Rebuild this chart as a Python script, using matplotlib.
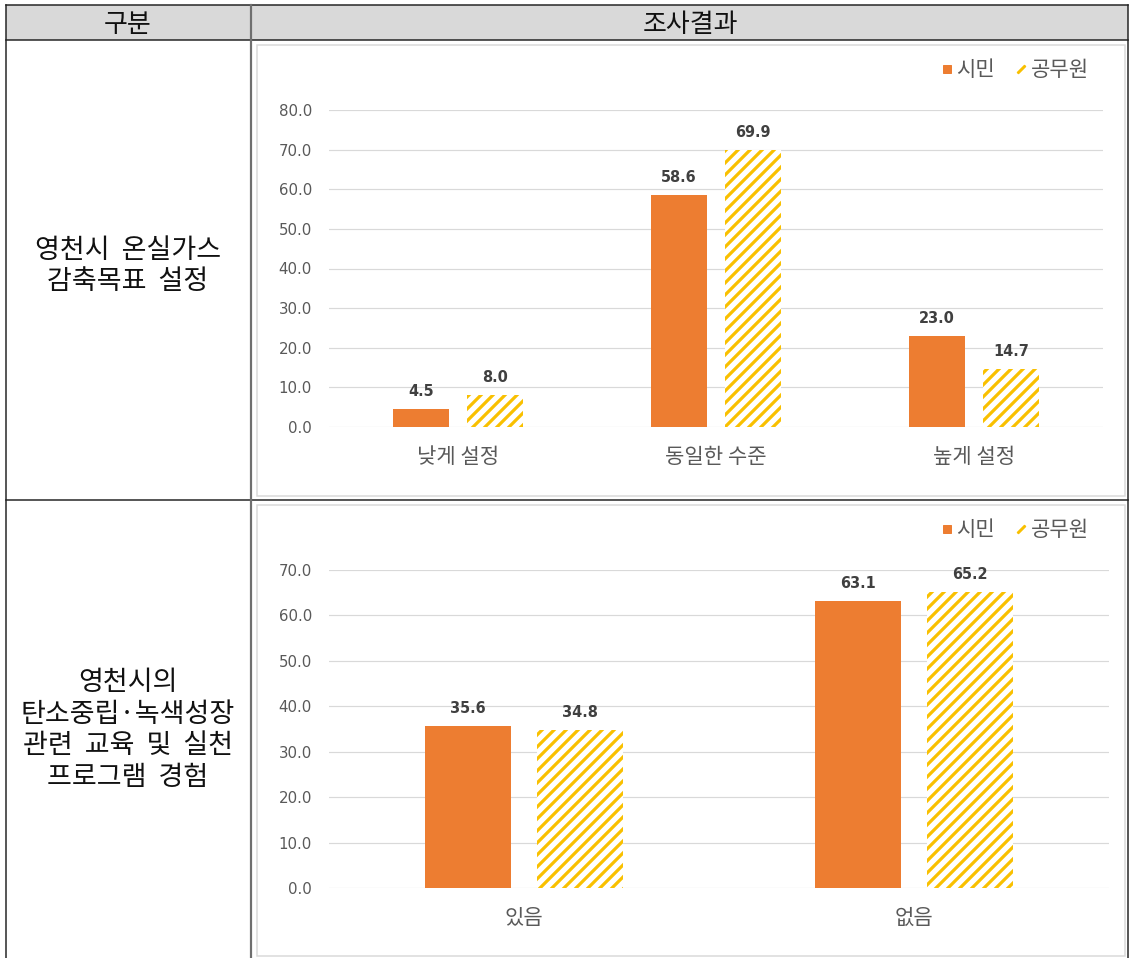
import numpy as np
import matplotlib
matplotlib.use("Agg")
import matplotlib.pyplot as plt
from matplotlib.patches import Rectangle
from matplotlib.lines import Line2D

plt.rcParams['font.family'] = ['Noto Sans CJK KR', 'DejaVu Sans']
plt.rcParams['hatch.linewidth'] = 3.2

# data
header_labels = ['구분', '조사결과']
row_labels = ['영천시  온실가스\n감축목표  설정',
              '영천시의\n탄소중립·녹색성장\n관련  교육  및  실천\n프로그램  경험']
series_names = ['시민', '공무원']

cats1 = ['낮게 설정', '동일한 수준', '높게 설정']
citizen1 = [4.5, 58.6, 23.0]
official1 = [8.0, 69.9, 14.7]

cats2 = ['있음', '없음']
citizen2 = [35.6, 63.1]
official2 = [34.8, 65.2]

W, H = 1130, 958
DPI = 72
ORANGE = '#ED7D31'
YELLOW = '#F9C000'
GRAY_TXT = '#595959'
GRID = '#d9d9d9'
NUM_FONT = ['DejaVu Sans']

fig = plt.figure(figsize=(W / DPI, H / DPI), dpi=DPI)

# background axes in pixel coords for the table
bg = fig.add_axes([0, 0, 1, 1], zorder=-1)
bg.set_xlim(0, W)
bg.set_ylim(H, 0)
bg.axis('off')

bg.add_patch(Rectangle((6, 5), 1122, 35, facecolor='#d9d9d9', edgecolor='none'))
bg.plot([6, 1128], [5, 5], color='#222222', lw=1.5)
bg.plot([6, 1128], [40, 40], color='#222222', lw=1.5)
bg.plot([6, 1128], [500, 500], color='#222222', lw=1.5)
bg.plot([6, 6], [5, H], color='#222222', lw=1.5)
bg.plot([1128, 1128], [5, H], color='#222222', lw=1.5)
bg.plot([251, 251], [5, H], color='#6f6f6f', lw=2.2)

bg.text(128, 24, header_labels[0], ha='center', va='center', fontsize=26, color='#111111')
bg.text(690, 24, header_labels[1], ha='center', va='center', fontsize=26, color='#111111')
bg.text(128, 266, row_labels[0], ha='center', va='center', fontsize=27,
        color='#111111', linespacing=1.22)
bg.text(128, 730, row_labels[1], ha='center', va='center', fontsize=27,
        color='#111111', linespacing=1.22)

# chart frames
bg.add_patch(Rectangle((257, 45), 868, 451, facecolor='white', edgecolor=GRID, lw=1.5))
bg.add_patch(Rectangle((257, 505), 868, 451, facecolor='white', edgecolor=GRID, lw=1.5))


def px_axes(left, right, top, bottom):
    return fig.add_axes([left / W, 1 - bottom / H, (right - left) / W, (bottom - top) / H])


def draw_chart(ax, cats, v1, v2, ymax, legend_y):
    x = np.arange(len(cats))
    w = 0.22
    off = 0.143
    ax.bar(x - off, v1, w, color=ORANGE, zorder=3)
    ax.bar(x + off, v2, w, facecolor='white', edgecolor=YELLOW, hatch='//', linewidth=0, zorder=3)
    for xs, vals in ((x - off, v1), (x + off, v2)):
        for xi, v in zip(xs, vals):
            ax.annotate(f'{v:.1f}', (xi, v), xytext=(0, 13), textcoords='offset points',
                        ha='center', va='baseline', fontsize=14.5, fontweight='bold',
                        color='#404040', family=NUM_FONT)
    ax.set_xlim(-0.5, len(cats) - 0.5)
    ax.set_ylim(0, ymax)
    ticks = np.arange(0, ymax + 1, 10)
    ax.set_yticks(ticks)
    ax.set_yticklabels([f'{t:.1f}' for t in ticks], family=NUM_FONT)
    ax.set_xticks(x)
    ax.set_xticklabels(cats)
    ax.tick_params(axis='y', length=0, pad=17, labelsize=15, labelcolor=GRAY_TXT)
    ax.tick_params(axis='x', length=0, pad=19, labelsize=21, labelcolor=GRAY_TXT)
    ax.grid(axis='y', color=GRID, lw=1.2, zorder=0)
    for s in ax.spines.values():
        s.set_visible(False)
    ax.set_facecolor('none')
    handles = [Line2D([], [], color=ORANGE, marker='s', ls='none', markersize=8),
               Line2D([], [], color=YELLOW, marker=(2, 2, -45), ls='none',
                      markersize=11, markeredgewidth=2.5)]
    fig.legend(handles, series_names, loc='center right', ncol=2, frameon=False,
               bbox_to_anchor=(1097 / W, 1 - legend_y / H), fontsize=21,
               labelcolor=GRAY_TXT, handlelength=0.5, handletextpad=0.2,
               columnspacing=1.0, borderaxespad=0)


ax1 = px_axes(329, 1103, 110, 427)
draw_chart(ax1, cats1, citizen1, official1, 80, 70)

ax2 = px_axes(329, 1109, 570, 888)
draw_chart(ax2, cats2, citizen2, official2, 70, 530)

fig.savefig('out.png', dpi=DPI)
